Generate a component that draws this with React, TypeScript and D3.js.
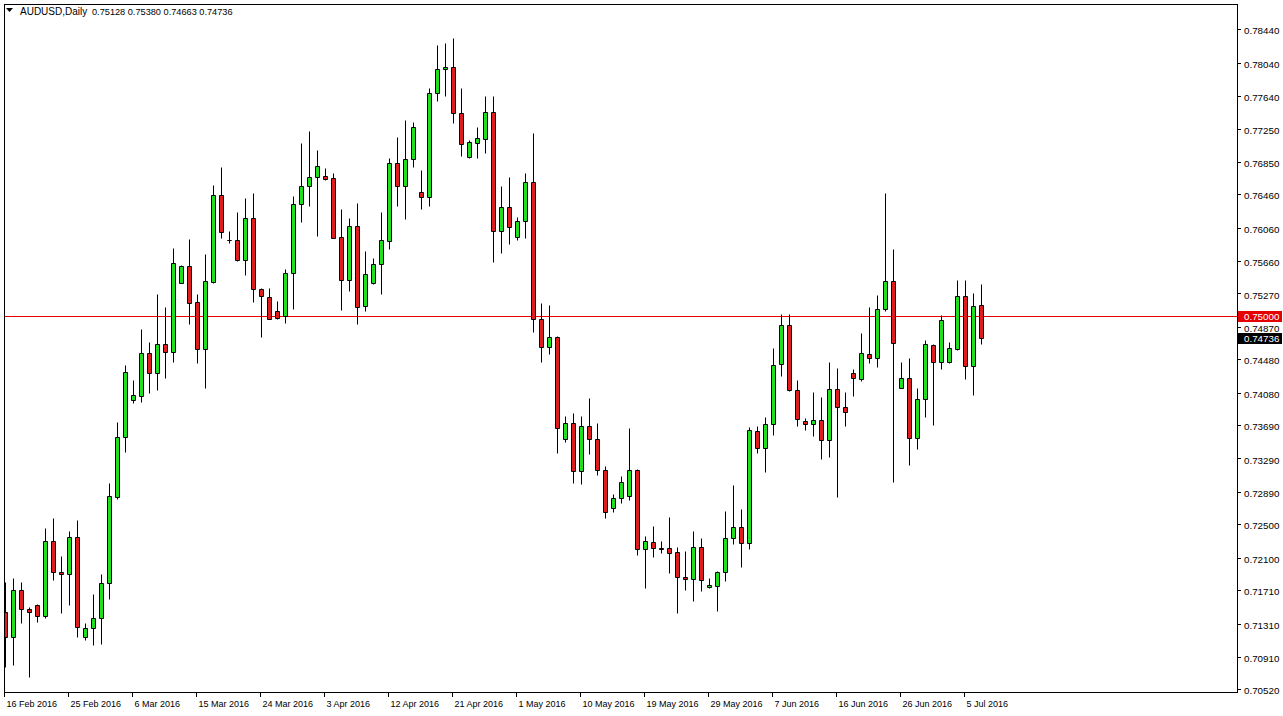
import React, { useEffect, useRef } from 'react';
import * as d3 from 'd3';

const SYMBOL = 'AUDUSD,Daily';
const START = new Date(Date.UTC(2016, 1, 16));

// daily candles, 16 Feb 2016 .. 7 Jul 2016 (broker has Sunday bars)
const opens = [
  0.71444, 0.71144, 0.71712, 0.71484, 0.71532, 0.71404, 0.723, 0.71928, 0.719, 0.72344,
  0.71152, 0.71252, 0.71372, 0.71792, 0.72832, 0.73544, 0.73992, 0.74044, 0.74552, 0.74312,
  0.7466, 0.74564, 0.754, 0.756, 0.75164, 0.746, 0.75412, 0.76452, 0.75912, 0.75912,
  0.75672, 0.76172, 0.7532, 0.75232, 0.75064, 0.75, 0.75512, 0.7634, 0.7656, 0.76664,
  0.7668, 0.76652, 0.75944, 0.75428, 0.76084, 0.7512, 0.754, 0.7562, 0.75904, 0.76832,
  0.76564, 0.7688, 0.76484, 0.76424, 0.77672, 0.7796, 0.77984, 0.77432, 0.76912, 0.7708,
  0.7712, 0.77444, 0.7602, 0.76304, 0.75944, 0.7614, 0.76604, 0.7496, 0.74624, 0.74752,
  0.7352, 0.73712, 0.7314, 0.7368, 0.7352, 0.73152, 0.72696, 0.72816, 0.72844, 0.73152,
  0.722, 0.72284, 0.72212, 0.72212, 0.72164, 0.71864, 0.7184, 0.72228, 0.71744, 0.7176,
  0.71924, 0.72336, 0.72464, 0.72272, 0.7362, 0.73412, 0.73704, 0.7442, 0.74892, 0.74112,
  0.7374, 0.737, 0.73752, 0.73508, 0.74124, 0.73908, 0.7432, 0.74244, 0.74544, 0.74492,
  0.7508, 0.7542, 0.74132, 0.74252, 0.73532, 0.74, 0.74652, 0.74444, 0.74452, 0.74604,
  0.7524, 0.74404, 0.75128
];
const highs = [
  0.71812, 0.71852, 0.71812, 0.71512, 0.71542, 0.7246, 0.7258, 0.7212, 0.7242, 0.72552,
  0.71312, 0.7166, 0.719, 0.72992, 0.73724, 0.74412, 0.74232, 0.74844, 0.74684, 0.75264,
  0.75112, 0.75812, 0.75612, 0.7592, 0.75264, 0.75744, 0.76572, 0.76792, 0.7602, 0.76252,
  0.76412, 0.7648, 0.75332, 0.75332, 0.7518, 0.75564, 0.7644, 0.7708, 0.7722, 0.76992,
  0.76772, 0.76712, 0.7628, 0.76172, 0.7636, 0.7578, 0.757, 0.76248, 0.76892, 0.77152,
  0.77352, 0.77324, 0.76752, 0.77732, 0.78252, 0.78272, 0.7834, 0.77732, 0.77112, 0.77272,
  0.7764, 0.7764, 0.7656, 0.76664, 0.76184, 0.76712, 0.77192, 0.7516, 0.75132, 0.74762,
  0.738, 0.73832, 0.738, 0.74012, 0.7372, 0.732, 0.72864, 0.7308, 0.7366, 0.7316,
  0.7236, 0.7248, 0.723, 0.72592, 0.72232, 0.7218, 0.7242, 0.7234, 0.7186, 0.7194,
  0.7266, 0.72972, 0.72684, 0.73672, 0.7368, 0.73792, 0.74612, 0.7502, 0.7502, 0.74232,
  0.73772, 0.74084, 0.74024, 0.74452, 0.74372, 0.74092, 0.74364, 0.748, 0.75112, 0.75252,
  0.76472, 0.75804, 0.74452, 0.74492, 0.74132, 0.74712, 0.7466, 0.75012, 0.74684, 0.75432,
  0.75432, 0.75272, 0.7538
];
const lows = [
  0.70792, 0.70812, 0.71312, 0.70672, 0.71332, 0.71372, 0.71832, 0.7144, 0.71532, 0.71152,
  0.71112, 0.71052, 0.71064, 0.716, 0.728, 0.73372, 0.73952, 0.73968, 0.7408, 0.74112,
  0.74252, 0.74444, 0.75392, 0.749, 0.74432, 0.74132, 0.75392, 0.75932, 0.7588, 0.75664,
  0.75492, 0.75172, 0.74752, 0.7496, 0.7496, 0.74912, 0.7508, 0.76132, 0.76324, 0.75964,
  0.76632, 0.75932, 0.75072, 0.75304, 0.74904, 0.75064, 0.75384, 0.7526, 0.75804, 0.7632,
  0.76164, 0.76792, 0.76284, 0.76324, 0.7758, 0.77644, 0.77312, 0.7692, 0.769, 0.76892,
  0.76952, 0.75648, 0.75752, 0.7586, 0.75912, 0.75932, 0.74804, 0.74452, 0.7454, 0.73352,
  0.73492, 0.73, 0.7298, 0.7334, 0.73092, 0.72576, 0.72648, 0.72756, 0.72792, 0.72132,
  0.7174, 0.72104, 0.72152, 0.7192, 0.71432, 0.71712, 0.71584, 0.71704, 0.71732, 0.71464,
  0.71824, 0.7226, 0.71992, 0.72204, 0.7336, 0.73132, 0.73572, 0.7428, 0.74104, 0.7368,
  0.73632, 0.73564, 0.73284, 0.73312, 0.72832, 0.73684, 0.74044, 0.7422, 0.7444, 0.74392,
  0.75064, 0.73012, 0.74132, 0.73212, 0.734, 0.73792, 0.73692, 0.7436, 0.7444, 0.74592,
  0.74244, 0.74052, 0.74663
];
const closes = [
  0.71152, 0.71712, 0.7148, 0.71444, 0.71404, 0.723, 0.71924, 0.719, 0.72344, 0.71264,
  0.71256, 0.71372, 0.71792, 0.72836, 0.73544, 0.74324, 0.74052, 0.74552, 0.74312, 0.7466,
  0.74564, 0.75632, 0.756, 0.7516, 0.746, 0.7542, 0.76452, 0.76004, 0.75912, 0.75672,
  0.76172, 0.7532, 0.7524, 0.74968, 0.74972, 0.75512, 0.7634, 0.7656, 0.76664, 0.768,
  0.76648, 0.7594, 0.75428, 0.76084, 0.75112, 0.755, 0.7562, 0.75912, 0.76832, 0.76564,
  0.7688, 0.77272, 0.76424, 0.77672, 0.7796, 0.77984, 0.77432, 0.7706, 0.77084, 0.77132,
  0.77444, 0.7602, 0.76304, 0.76064, 0.7614, 0.76604, 0.74964, 0.74624, 0.74752, 0.73652,
  0.73712, 0.7314, 0.7368, 0.7352, 0.73152, 0.72648, 0.72816, 0.73008, 0.73152, 0.722,
  0.72296, 0.72212, 0.722, 0.72152, 0.71864, 0.7184, 0.72228, 0.71828, 0.71772, 0.71924,
  0.72336, 0.72464, 0.72272, 0.73632, 0.73412, 0.73704, 0.74412, 0.74892, 0.74112, 0.7376,
  0.737, 0.73752, 0.73508, 0.74124, 0.73904, 0.73852, 0.74252, 0.74552, 0.74492, 0.7508,
  0.7542, 0.74672, 0.74252, 0.73532, 0.74, 0.74664, 0.74444, 0.74952, 0.74612, 0.7524,
  0.74404, 0.7512, 0.74736
];

const priceTicks = [
  0.7844, 0.7804, 0.7764, 0.7725, 0.7685, 0.7646, 0.7606, 0.7566, 0.7527, 0.7487, 0.7448,
  0.7408, 0.7369, 0.7329, 0.7289, 0.725, 0.721, 0.7171, 0.7131, 0.7091, 0.7052
];
const dateTicks = [
  '16 Feb 2016', '25 Feb 2016', '6 Mar 2016', '15 Mar 2016', '24 Mar 2016', '3 Apr 2016',
  '12 Apr 2016', '21 Apr 2016', '1 May 2016', '10 May 2016', '19 May 2016', '29 May 2016',
  '7 Jun 2016', '16 Jun 2016', '26 Jun 2016', '5 Jul 2016'
];
const levelPrice = 0.75;

export default function App(): JSX.Element {
  const divRef = useRef<HTMLDivElement>(null);

  useEffect(() => {
    const divEle = divRef.current;
    if (divEle == null) {
      return;
    }
    d3.select(divEle).selectAll('*').remove();

    const W = 1283;
    const H = 716;
    const plot = { left: 4, top: 4, right: 1237, bottom: 692 };
    const BULL = '#1fe01f';
    const BEAR = '#e01c1c';
    const FONT = '"Liberation Sans", Arial, sans-serif';
    const n = opens.length;

    // trading days, Saturdays skipped
    const dates: Date[] = [];
    let d = START;
    while (dates.length < n) {
      if (d.getUTCDay() !== 6) dates.push(d);
      d = d3.utcDay.offset(d, 1);
    }
    const fmtDate = d3.utcFormat('%-d %b %Y');
    const fmtPrice = d3.format('.5f');

    const x = d3
      .scaleBand<number>()
      .domain(d3.range(n))
      .range([1, 1 + 8 * n]);
    const cx = (i: number) => Math.round((x(i) || 0) + x.bandwidth() / 2);
    const y = d3.scaleLinear().domain([0.70488, 0.78744]).range([plot.bottom, plot.top]);
    const py = (v: number) => Math.round(y(v)) + 0.5;

    const svg = d3
      .select(divEle)
      .append('svg')
      .attr('width', W)
      .attr('height', H)
      .style('display', 'block');

    svg.append('rect').attr('width', W).attr('height', H).attr('fill', '#ffffff');

    svg
      .append('clipPath')
      .attr('id', 'plot-clip')
      .append('rect')
      .attr('x', plot.left + 1)
      .attr('y', plot.top + 1)
      .attr('width', plot.right - plot.left - 1)
      .attr('height', plot.bottom - plot.top - 1);

    const g = svg.append('g').attr('clip-path', 'url(#plot-clip)');

    // horizontal level
    g.append('line')
      .attr('x1', plot.left)
      .attr('x2', plot.right)
      .attr('y1', py(levelPrice))
      .attr('y2', py(levelPrice))
      .attr('stroke', '#e60000')
      .attr('stroke-width', 1);

    const idx = d3.range(n);
    // wicks
    g.selectAll('line.wick')
      .data(idx)
      .enter()
      .append('line')
      .attr('class', 'wick')
      .attr('x1', (i) => cx(i) + 0.5)
      .attr('x2', (i) => cx(i) + 0.5)
      .attr('y1', (i) => py(highs[i]))
      .attr('y2', (i) => py(lows[i]))
      .attr('stroke', '#000')
      .attr('stroke-width', 1);

    // bodies
    g.selectAll('path.body')
      .data(idx)
      .enter()
      .append('path')
      .attr('class', 'body')
      .attr('d', (i) => {
        const top = py(Math.max(opens[i], closes[i]));
        const bot = py(Math.min(opens[i], closes[i]));
        const x0 = cx(i) - 1.5;
        const x1 = cx(i) + 2.5;
        return `M${x0},${top}H${x1}V${bot}H${x0}Z`;
      })
      .attr('fill', (i) => (closes[i] >= opens[i] ? BULL : BEAR))
      .attr('stroke', '#000')
      .attr('stroke-width', 1);

    // frame
    svg
      .append('rect')
      .attr('x', plot.left + 0.5)
      .attr('y', plot.top + 0.5)
      .attr('width', plot.right - plot.left)
      .attr('height', plot.bottom - plot.top)
      .attr('fill', 'none')
      .attr('stroke', '#000');

    // price axis
    const pa = svg.append('g').attr('font-family', FONT).attr('font-size', 9.8);
    priceTicks.forEach((v) => {
      pa.append('line')
        .attr('x1', plot.right)
        .attr('x2', plot.right + 4)
        .attr('y1', py(v))
        .attr('y2', py(v))
        .attr('stroke', '#000');
      pa.append('text')
        .attr('x', plot.right + 7)
        .attr('y', y(v) + 5)
        .attr('fill', '#000')
        .text(fmtPrice(v));
    });

    const tag = (v: number, bg: string) => {
      pa.append('rect')
        .attr('x', plot.right + 1)
        .attr('y', Math.round(y(v)) - 5)
        .attr('width', 44)
        .attr('height', 11)
        .attr('fill', bg);
      pa.append('text')
        .attr('x', plot.right + 7)
        .attr('y', Math.round(y(v)) + 4)
        .attr('fill', '#fff')
        .text(fmtPrice(v));
    };
    tag(levelPrice, '#e60000');
    tag(closes[n - 1], '#000');

    // time axis
    const ta = svg.append('g').attr('font-family', FONT).attr('font-size', 9);
    dateTicks.forEach((label) => {
      const i = dates.findIndex((dt) => fmtDate(dt) === label);
      if (i < 0) return;
      const tx = Math.max(cx(i) - 1, plot.left) + 0.5;
      ta.append('line')
        .attr('x1', tx)
        .attr('x2', tx)
        .attr('y1', plot.bottom)
        .attr('y2', plot.bottom + 5)
        .attr('stroke', '#000');
      ta.append('text')
        .attr('x', tx + 2)
        .attr('y', plot.bottom + 15)
        .attr('fill', '#000')
        .text(label);
    });

    // header
    const hd = svg.append('g').attr('font-family', FONT).attr('font-size', 10).attr('fill', '#000');
    hd.append('path').attr('d', 'M6,8H13L9.5,12Z').attr('fill', '#000');
    hd.append('text').attr('x', 20).attr('y', 15).text(SYMBOL);
    hd.append('text')
      .attr('x', 92)
      .attr('y', 15)
      .attr('font-size', 9.2)
      .text([opens[n - 1], highs[n - 1], lows[n - 1], closes[n - 1]].map(fmtPrice).join(' '));
  }, []);

  return (
    <div
      ref={divRef}
      style={{ position: 'absolute', left: 0, top: 0, width: 1283, height: 716 }}
    />
  );
}
